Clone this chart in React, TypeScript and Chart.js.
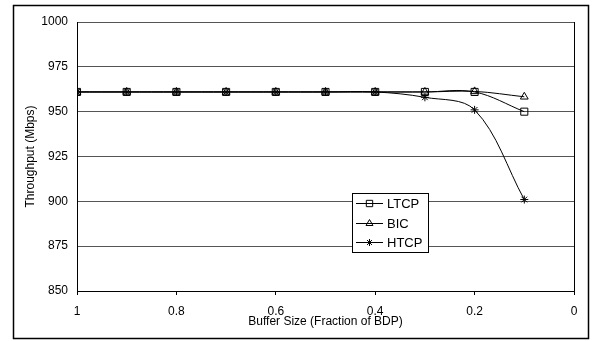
import React, { useEffect, useRef } from "react";
import { Chart, registerables } from "chart.js";

Chart.register(...registerables);

const bufferSizes = [1, 0.9, 0.8, 0.7, 0.6, 0.5, 0.4, 0.3, 0.2, 0.1];
const ltcpValues = [961, 961, 961, 961, 961, 961, 961, 961, 961, 950];
const bicValues = [961, 961, 961, 961, 961, 961, 961, 961, 961.3, 958.3];
const htcpValues = [961, 961, 961, 961, 961, 961, 961, 958, 951, 901];
const seriesNames = ["LTCP", "BIC", "HTCP"];
const pointStyles = ["rect", "triangle", "star"];
const pointRadii = [5, 4.5, 4];
const yMin = 850;
const yMax = 1000;
const yStep = 25;
const xMin = 0;
const xMax = 1;
const xStep = 0.2;
const xTitle = "Buffer Size (Fraction of BDP)";
const yTitle = "Throughput (Mbps)";

const FONT = "'Liberation Sans', Arial, sans-serif";

function drawMarker(ctx: CanvasRenderingContext2D, style: string, x: number, y: number, r: number) {
  ctx.beginPath();
  if (style === "rect") {
    const s = r * Math.SQRT1_2;
    ctx.rect(x - s, y - s, 2 * s, 2 * s);
  } else if (style === "triangle") {
    ctx.moveTo(x, y - r);
    ctx.lineTo(x + r * 0.866, y + r * 0.5);
    ctx.lineTo(x - r * 0.866, y + r * 0.5);
    ctx.closePath();
  } else {
    ctx.moveTo(x - r, y);
    ctx.lineTo(x + r, y);
    ctx.moveTo(x, y - r);
    ctx.lineTo(x, y + r);
    const d = r * Math.SQRT1_2;
    ctx.moveTo(x - d, y - d);
    ctx.lineTo(x + d, y + d);
    ctx.moveTo(x - d, y + d);
    ctx.lineTo(x + d, y - d);
  }
  ctx.stroke();
}

const framePlugin = {
  id: "frameAndLegend",
  afterDraw(chart: any) {
    const ctx = chart.ctx as CanvasRenderingContext2D;
    const area = chart.chartArea;
    ctx.save();
    ctx.strokeStyle = "#000";
    ctx.lineWidth = 1;
    ctx.beginPath();
    ctx.moveTo(Math.round(area.right) + 0.5, area.top);
    ctx.lineTo(Math.round(area.right) + 0.5, area.bottom);
    ctx.stroke();
    ctx.lineWidth = 1.5;
    ctx.strokeRect(13.5, 5.5, 575, 333);
    const lx = 352.5, ly = 193.5, lw = 76, lh = 59;
    ctx.fillStyle = "#fff";
    ctx.fillRect(lx, ly, lw, lh);
    ctx.lineWidth = 1;
    ctx.strokeStyle = "#000";
    ctx.strokeRect(lx, ly, lw, lh);
    ctx.font = `13px ${FONT}`;
    ctx.textBaseline = "middle";
    ctx.textAlign = "left";
    const rows = [203, 223, 242];
    seriesNames.forEach((name, i) => {
      const y = rows[i] + 0.5;
      ctx.strokeStyle = "#000";
      ctx.lineWidth = 1;
      ctx.beginPath();
      ctx.moveTo(356, y);
      ctx.lineTo(383, y);
      ctx.stroke();
      drawMarker(ctx, pointStyles[i], 369.5, y, pointRadii[i] - 0.5);
      ctx.fillStyle = "#000";
      ctx.fillText(name, 387, y + 0.5);
    });
    ctx.restore();
  },
};

export default function App() {
  const canvasRef = useRef<HTMLCanvasElement | null>(null);

  useEffect(() => {
    const canvas = canvasRef.current;
    if (!canvas) return;
    Chart.defaults.font.family = FONT;
    Chart.defaults.font.size = 12;
    Chart.defaults.color = "#000";

    const allValues = [ltcpValues, bicValues, htcpValues];
    const chart = new Chart(canvas, {
      type: "line",
      data: {
        datasets: seriesNames.map((name, i) => ({
          label: name,
          data: bufferSizes.map((x, j) => ({ x, y: allValues[i][j] })),
          borderColor: "#000",
          borderWidth: 1,
          backgroundColor: "transparent",
          pointStyle: pointStyles[i] as any,
          pointRadius: pointRadii[i],
          pointBorderColor: "#000",
          pointBorderWidth: 1,
          pointBackgroundColor: "transparent",
          tension: 0.35,
          fill: false,
        })),
      },
      options: {
        responsive: false,
        animation: false,
        layout: { padding: { left: 14, right: 18, top: 22, bottom: 4 } },
        plugins: {
          legend: { display: false },
          tooltip: { enabled: false },
        },
        scales: {
          x: {
            type: "linear",
            reverse: true,
            min: xMin,
            max: xMax,
            ticks: {
              stepSize: xStep,
              padding: 9,
              maxRotation: 0,
              font: { size: 12, family: FONT },
              callback: (v: any) => String(Number(v)),
            },
            grid: { display: true, drawOnChartArea: false, drawTicks: true, tickLength: 4, color: "#000" },
            border: { display: true, color: "#000", width: 1 },
            title: {
              display: true,
              text: xTitle,
              font: { size: 12, family: FONT },
              padding: { top: 0, bottom: 8 },
            },
            afterFit: (scale: any) => {
              scale.height = 46;
            },
          },
          y: {
            type: "linear",
            min: yMin,
            max: yMax,
            ticks: {
              stepSize: yStep,
              padding: 9,
              font: { size: 12, family: FONT },
              callback: (v: any) => String(Number(v)),
            },
            grid: { display: true, drawTicks: false, color: "#555", lineWidth: 1 },
            border: { display: true, color: "#000", width: 1 },
            title: {
              display: true,
              text: yTitle,
              font: { size: 12, family: FONT },
              padding: { top: 9, bottom: 0 },
            },
            afterFit: (scale: any) => {
              scale.width = 63;
            },
          },
        },
      },
      plugins: [framePlugin],
    } as any);

    return () => {
      chart.destroy();
    };
  }, []);

  return (
    <div style={{ position: "fixed", left: 0, top: 0, width: 592, height: 341, background: "#fff" }}>
      <canvas ref={canvasRef} width={592} height={341} style={{ display: "block", width: 592, height: 341 }} />
    </div>
  );
}
